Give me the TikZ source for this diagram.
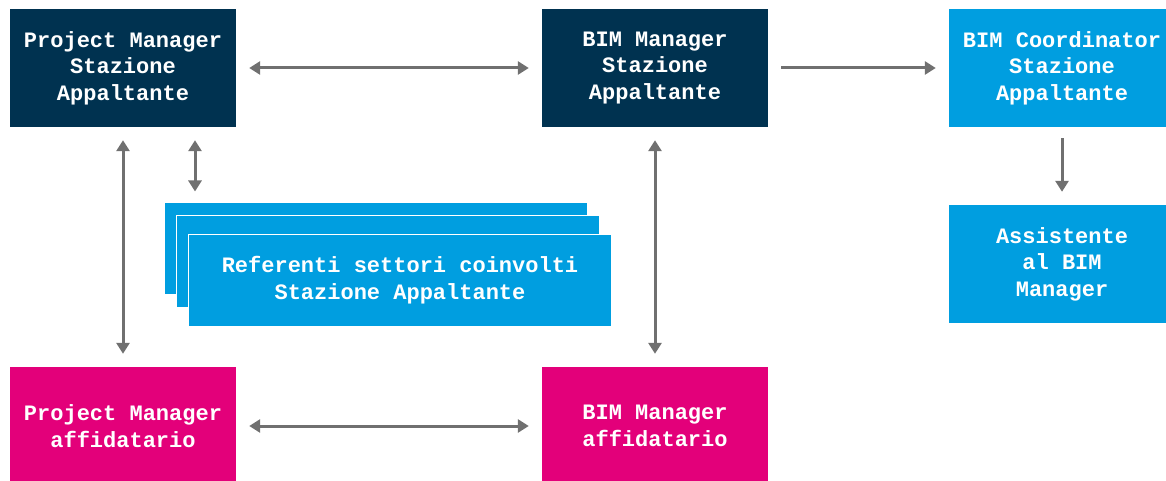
\documentclass[tikz,border=0pt]{standalone}
\usepackage{fontspec}
\setmainfont{Liberation Mono}
\usetikzlibrary{arrows.meta}
\definecolor{navy}{RGB}{0,50,80}
\definecolor{azure}{RGB}{0,158,224}
\definecolor{fuchsia}{RGB}{227,0,122}
\definecolor{arrowgray}{RGB}{112,112,112}
\begin{document}
\begin{tikzpicture}[x=1pt,y=-1pt,
    box/.style={minimum width=226pt,minimum height=118pt,inner sep=0pt,align=center,
      text=white,font=\fontsize{22}{26.5}\selectfont\bfseries},
    refbox/.style={box,fill=azure,draw=white,line width=1pt,minimum width=423pt,minimum height=92pt},
    link/.style={draw=arrowgray,line width=3pt,shorten <=13pt,shorten >=13pt},
    gtip/.tip={Triangle[width=13pt,length=11pt]}]
    \useasboundingbox (0,0) rectangle (1166,481);
    \node[box,fill=navy] (pmsa) at (123,68) {Project Manager\\Stazione\\Appaltante};
    \node[box,fill=navy] (bimsa) at (655,68) {BIM Manager\\Stazione\\Appaltante};
    \node[box,fill=azure] (bimco) at (1062,68) {BIM Coordinator\\Stazione\\Appaltante};
    \node[box,fill=azure] (assist) at (1062,264) {Assistente\\al BIM\\Manager};
    \node[box,fill=fuchsia] (pmaff) at (123,426) {Project Manager\\affidatario};
    \node[box,fill=fuchsia] (bimaff) at (655,426) {BIM Manager\\affidatario};
    \node[refbox] (refback) at (376,248) {};
    \node[refbox] (refmid) at (388,261) {};
    \node[refbox] (reffront) at (400,280) {Referenti settori coinvolti\\Stazione Appaltante};
    \draw[link,gtip-gtip] (pmsa) -- (bimsa);
    \draw[link,-gtip] (bimsa) -- (bimco);
    \draw[link,gtip-gtip] (pmsa) -- (pmaff);
    \draw[link,gtip-gtip,shorten >=10pt] ([xshift=72pt]pmsa.south) -- ([xshift=72pt]pmsa.south |- refback.north);
    \draw[link,gtip-gtip] (bimsa) -- (bimaff);
    \draw[link,gtip-gtip] (pmaff) -- (bimaff);
    \draw[link,-gtip,shorten <=11pt] (bimco) -- (assist);
\end{tikzpicture}
\end{document}
